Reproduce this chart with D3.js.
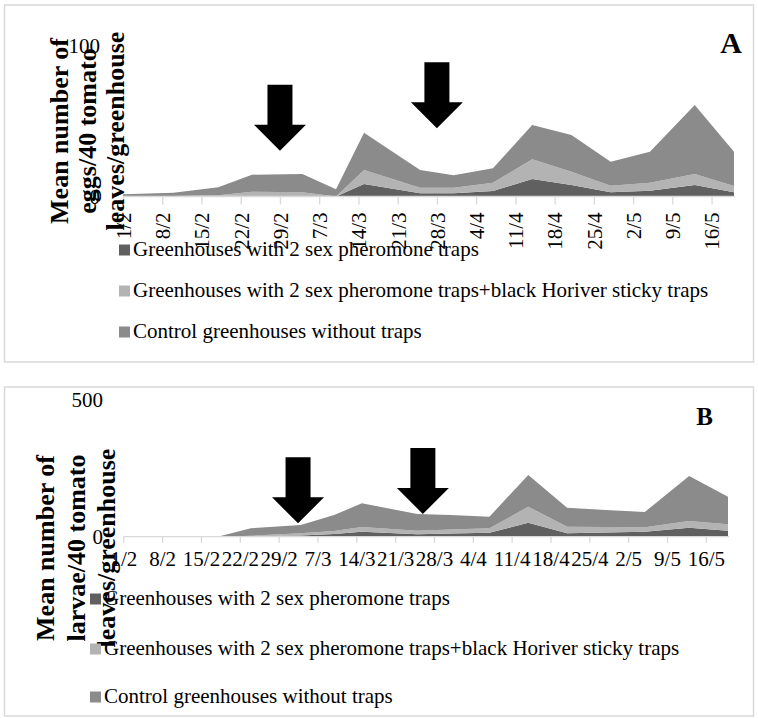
<!DOCTYPE html>
<html>
<head>
<meta charset="utf-8">
<script src="https://cdnjs.cloudflare.com/ajax/libs/d3/7.8.5/d3.min.js"></script>
<style>
  body { margin: 0; background: #fff; }
  svg { display: block; }
  svg text { font-family: "Liberation Serif", "Times New Roman", serif; }
</style>
</head>
<body>
<svg id="chart" width="758" height="718"></svg>
<script>
// Sampling dates (2016)
const sampleDates = ["2016-02-01", "2016-02-10", "2016-02-18", "2016-02-24", "2016-03-04", "2016-03-10",
  "2016-03-15", "2016-03-25", "2016-03-31", "2016-04-07", "2016-04-14", "2016-04-21",
  "2016-04-28", "2016-05-05", "2016-05-13", "2016-05-20"];

const seriesNames = [
  "Greenhouses with 2 sex pheromone traps",
  "Greenhouses with 2 sex pheromone traps+black Horiver sticky traps",
  "Control greenhouses without traps"
];

// Panel A: mean number of eggs / 40 tomato leaves / greenhouse
const eggsPheromone       = [0, 0, 0.5, 0.3, 0.3, 0, 8.3, 2.1, 2.1, 3.7, 11.6, 7.6, 2.8, 3.9, 7.6, 2.8];
const eggsPheromoneSticky = [0.2, 0.3, 0.3, 2.9, 2.5, 0, 9.3, 3.7, 3.7, 5.5, 13.1, 8.9, 4.4, 5.3, 7.4, 4.2];
const eggsControl         = [1.3, 2.2, 5.3, 11.3, 12.2, 4.8, 24.8, 11.8, 8.3, 9.5, 22.8, 24.4, 15.9, 20.6, 45.8, 22.8];

// Panel B: mean number of larvae / 40 tomato leaves / greenhouse
const larvaePheromone       = [0, 0, 0, 2.6, 4.4, 9.9, 18.3, 8.8, 11.7, 14.6, 51.2, 12.4, 15.4, 18.3, 32.9, 21.9];
const larvaePheromoneSticky = [0, 0, 0, 1.1, 8.0, 10.9, 17.2, 13.1, 14.3, 16.1, 58.5, 24.2, 20.1, 16.1, 24.5, 23.5];
const larvaeControl         = [0, 0, 0, 27.0, 30.4, 58.6, 86.5, 61.1, 53.0, 42.5, 116.0, 69.4, 62.2, 55.9, 164.6, 100.9];

const eggTicks = [0, 100];
const larvaeTicks = [0, 500];

// Trap deployment markers (date, value at arrow tip)
const eggArrowDates = ["2016-02-29 00:00", "2016-03-28 00:00"];
const eggArrowValues = [30.4, 45.3];
const larvaeArrowDates = ["2016-03-03 12:00", "2016-03-26 00:00"];
const larvaeArrowValues = [49, 83];

const colors = ["#606060", "#b3b3b3", "#8b8b8b"];
const SERIF = '"Liberation Serif", "Times New Roman", serif';

const parseDay = d3.timeParse("%Y-%m-%d");
const parseStamp = d3.timeParse("%Y-%m-%d %H:%M");
const fmtTick = d3.timeFormat("%-d/%-m");
const dates = sampleDates.map(parseDay);
const weekTicks = d3.timeMonday.range(dates[0], d3.timeDay.offset(dates[dates.length - 1], 1));

const svg = d3.select("#chart");

function panel(cfg) {
  const g = svg.append("g");
  // frame
  g.append("rect")
    .attr("x", cfg.box[0]).attr("y", cfg.box[1])
    .attr("width", cfg.box[2]).attr("height", cfg.box[3])
    .attr("fill", "#fff").attr("stroke", "#d9d9d9").attr("stroke-width", 1.5);

  const x = d3.scaleTime().domain([dates[0], dates[dates.length - 1]]).range(cfg.xRange);
  const y = d3.scaleLinear().domain([0, cfg.yMax]).range(cfg.yRange);

  const rows = dates.map((d, i) => ({ date: d, s0: cfg.series[0][i], s1: cfg.series[1][i], s2: cfg.series[2][i] }));
  const stacked = d3.stack().keys(["s0", "s1", "s2"])(rows);
  const area = d3.area()
    .x(d => x(d.data.date))
    .y0(d => y(d[0]))
    .y1(d => y(d[1]));

  g.selectAll("path.layer").data(stacked).join("path")
    .attr("class", "layer")
    .attr("d", area)
    .attr("fill", (d, i) => colors[i]);

  // category axis
  const xAxis = d3.axisBottom(x).tickValues(weekTicks).tickFormat(fmtTick)
    .tickSize(cfg.tickLen).tickPadding(8);
  const ax = g.append("g").attr("transform", `translate(0,${cfg.yRange[0]})`).call(xAxis)
    .attr("font-family", SERIF).attr("font-size", 21);
  ax.select(".domain").attr("stroke", "#d9d9d9").attr("stroke-width", 1.3)
    .attr("d", `M${cfg.xRange[0]},0H${cfg.xRange[1] + 1}`);
  ax.selectAll(".tick line").attr("stroke", "#d9d9d9").attr("stroke-width", 1.3);
  ax.selectAll(".tick text").attr("fill", "#000");
  if (cfg.rotate) {
    ax.selectAll(".tick text")
      .attr("transform", "rotate(-90)")
      .attr("text-anchor", "end")
      .attr("x", -16).attr("y", 0).attr("dy", "0.35em");
  } else {
    ax.selectAll(".tick text").attr("dy", "0.71em");
  }

  // value axis labels
  const yAxis = d3.axisLeft(y).tickValues(cfg.yTicks).tickSize(0).tickPadding(cfg.xRange[0] - cfg.yLabelX);
  const ay = g.append("g").attr("transform", `translate(${cfg.xRange[0]},0)`).call(yAxis)
    .attr("font-family", SERIF).attr("font-size", 21);
  ay.select(".domain").remove();
  ay.selectAll(".tick text").attr("fill", "#000");

  // arrows
  const arrowDates = cfg.arrowDates.map(parseStamp);
  arrowDates.forEach((d, i) => {
    const tx = x(d), ty = y(cfg.arrowValues[i]);
    const sw = 12.5, hw = 26, hl = 26, len = 66;
    const pts = [[tx - sw, ty - len], [tx + sw, ty - len], [tx + sw, ty - hl], [tx + hw, ty - hl],
                 [tx, ty], [tx - hw, ty - hl], [tx - sw, ty - hl]];
    g.append("path").attr("d", "M" + pts.map(p => p.join(",")).join("L") + "Z").attr("fill", "#000");
  });

  // y title
  cfg.titleLines.forEach((t, i) => {
    g.append("text")
      .attr("transform", `translate(${cfg.titleX[i]},${cfg.titleY}) rotate(-90)`)
      .attr("text-anchor", "middle").attr("dy", "0.35em")
      .attr("font-size", 26).attr("font-weight", "bold").attr("fill", "#000")
      .text(t);
  });

  // panel letter
  g.append("text").attr("x", cfg.letter.x).attr("y", cfg.letter.y)
    .attr("text-anchor", "middle").attr("font-weight", "bold")
    .attr("font-size", cfg.letter.size).text(cfg.letter.text);

  // legend
  seriesNames.forEach((name, i) => {
    const ly = cfg.legendY[i];
    g.append("rect").attr("x", cfg.legendX).attr("y", ly - 11.5).attr("width", 11).attr("height", 11)
      .attr("fill", colors[i]);
    g.append("text").attr("x", cfg.legendX + 14).attr("y", ly)
      .attr("font-size", 21).attr("fill", "#000").text(name);
  });
}

panel({
  box: [4.5, 5, 749, 357],
  xRange: [123, 734], yRange: [196.5, 46], yMax: 100, yTicks: eggTicks, yLabelX: 100,
  series: [eggsPheromone, eggsPheromoneSticky, eggsControl],
  tickLen: 8, rotate: true,
  arrowDates: eggArrowDates, arrowValues: eggArrowValues,
  titleLines: ["Mean number of", "eggs/40 tomato", "leaves/greenhouse"],
  titleX: [59, 87, 115], titleY: 131,
  letter: { text: "A", x: 731, y: 53, size: 30 },
  legendX: 119, legendY: [256, 297, 338]
});

panel({
  box: [4.5, 387, 749, 329],
  xRange: [123.3, 728], yRange: [536.7, 400], yMax: 500, yTicks: larvaeTicks, yLabelX: 103,
  series: [larvaePheromone, larvaePheromoneSticky, larvaeControl],
  tickLen: 6, rotate: false,
  arrowDates: larvaeArrowDates, arrowValues: larvaeArrowValues,
  titleLines: ["Mean number of", "larvae/40 tomato", "leaves/greenhouse"],
  titleX: [45, 76, 106], titleY: 548,
  letter: { text: "B", x: 704.5, y: 425, size: 25 },
  legendX: 90, legendY: [605, 655, 703]
});
</script>
</body>
</html>
